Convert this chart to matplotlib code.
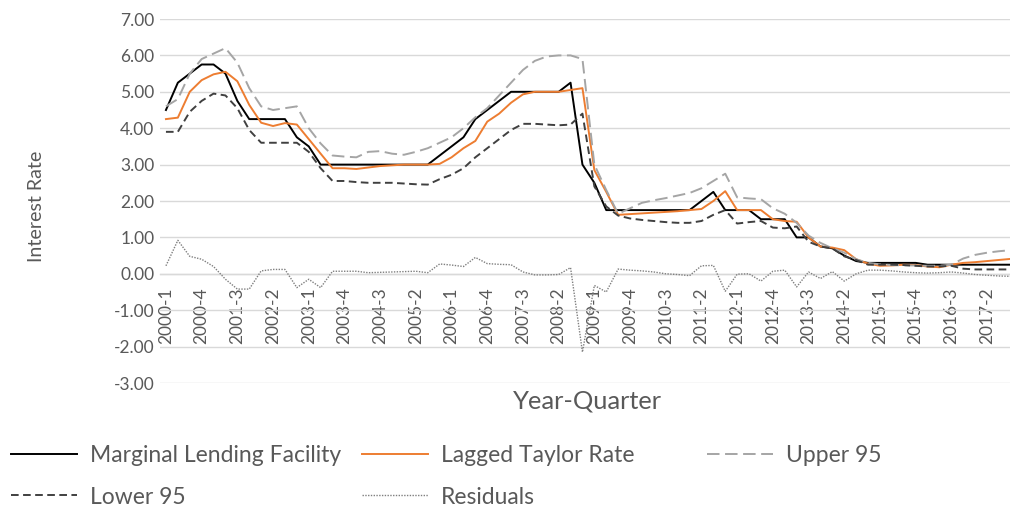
import matplotlib
matplotlib.use("Agg")
import matplotlib.pyplot as plt

# ---------------- data ----------------
quarters = [f"{y}-{q}" for y in range(2000, 2018) for q in range(1, 5)]

mlf = [4.50, 5.25, 5.50, 5.75, 5.75, 5.50, 4.75, 4.25, 4.25, 4.25, 4.25, 3.75,
       3.50, 3.00, 3.00, 3.00, 3.00, 3.00, 3.00, 3.00, 3.00, 3.00, 3.00, 3.25,
       3.50, 3.75, 4.25, 4.50, 4.75, 5.00, 5.00, 5.00, 5.00, 5.00, 5.25, 3.00,
       2.50, 1.75, 1.75, 1.75, 1.75, 1.75, 1.75, 1.75, 1.75, 2.00, 2.25, 1.75,
       1.75, 1.75, 1.50, 1.50, 1.50, 1.00, 1.00, 0.75, 0.70, 0.50, 0.35, 0.30,
       0.30, 0.30, 0.30, 0.30, 0.25, 0.25, 0.25, 0.25, 0.25, 0.25, 0.25, 0.25]

taylor = [4.25, 4.29, 5.00, 5.32, 5.48, 5.55, 5.29, 4.64, 4.15, 4.06, 4.14, 4.10,
          3.70, 3.30, 2.90, 2.90, 2.88, 2.92, 2.96, 2.98, 3.00, 3.00, 3.00, 3.02,
          3.20, 3.45, 3.65, 4.18, 4.40, 4.70, 4.93, 5.00, 5.00, 5.00, 5.05, 5.10,
          2.85, 2.25, 1.62, 1.64, 1.66, 1.68, 1.70, 1.72, 1.75, 1.78, 2.00, 2.27,
          1.75, 1.75, 1.75, 1.50, 1.45, 1.43, 1.00, 0.75, 0.72, 0.65, 0.40, 0.28,
          0.22, 0.23, 0.25, 0.24, 0.20, 0.18, 0.25, 0.30, 0.32, 0.35, 0.38, 0.41]

upper95 = [4.60, 4.80, 5.50, 5.90, 6.05, 6.20, 5.80, 5.10, 4.60, 4.50, 4.55, 4.60,
           4.00, 3.58, 3.25, 3.22, 3.20, 3.35, 3.37, 3.30, 3.27, 3.35, 3.45, 3.60,
           3.75, 4.00, 4.30, 4.55, 4.90, 5.25, 5.60, 5.85, 5.97, 6.00, 6.00, 5.90,
           3.00, 2.30, 1.65, 1.80, 1.95, 2.02, 2.08, 2.15, 2.22, 2.35, 2.55, 2.75,
           2.10, 2.07, 2.05, 1.80, 1.65, 1.40, 1.05, 0.85, 0.70, 0.58, 0.40, 0.30,
           0.26, 0.24, 0.23, 0.23, 0.22, 0.22, 0.25, 0.42, 0.52, 0.58, 0.62, 0.65]

lower95 = [3.90, 3.90, 4.45, 4.75, 4.95, 4.90, 4.55, 3.95, 3.60, 3.60, 3.60, 3.60,
           3.35, 2.90, 2.55, 2.55, 2.52, 2.50, 2.50, 2.50, 2.48, 2.46, 2.45, 2.60,
           2.72, 2.90, 3.20, 3.45, 3.70, 3.95, 4.12, 4.12, 4.10, 4.08, 4.10, 4.40,
           2.40, 1.85, 1.60, 1.52, 1.48, 1.45, 1.42, 1.40, 1.40, 1.45, 1.62, 1.75,
           1.38, 1.42, 1.45, 1.27, 1.25, 1.30, 0.88, 0.75, 0.70, 0.48, 0.38, 0.25,
           0.25, 0.25, 0.24, 0.22, 0.20, 0.20, 0.22, 0.14, 0.12, 0.12, 0.12, 0.12]

residuals = [0.22, 0.92, 0.48, 0.40, 0.20, -0.15, -0.42, -0.42, 0.08, 0.12, 0.12, -0.38,
             -0.15, -0.38, 0.07, 0.07, 0.07, 0.03, 0.04, 0.05, 0.06, 0.07, 0.03, 0.27,
             0.24, 0.20, 0.45, 0.28, 0.26, 0.25, 0.05, -0.03, -0.03, -0.02, 0.17, -2.15,
             -0.32, -0.50, 0.13, 0.10, 0.08, 0.05, 0.00, -0.02, -0.05, 0.22, 0.23, -0.48,
             -0.01, 0.00, -0.20, 0.07, 0.10, -0.36, 0.05, -0.13, 0.06, -0.20, 0.00, 0.10,
             0.10, 0.08, 0.05, 0.03, 0.02, 0.03, 0.05, 0.02, -0.02, -0.04, -0.06, -0.07]

y_ticks = [-3, -2, -1, 0, 1, 2, 3, 4, 5, 6, 7]
series_labels = ["Marginal Lending Facility", "Lagged Taylor Rate", "Upper 95",
                 "Lower 95", "Residuals"]

# ---------------- figure ----------------
W, H = 1010, 511
FONT = "Lato"
TXT = "#595959"
GRID = "#D9D9D9"

plt.rcParams["lines.scale_dashes"] = False
fig = plt.figure(figsize=(W / 100, H / 100), dpi=100)
renderer = fig.canvas.get_renderer()


def fit(text, target_px):
    t = fig.text(0, 0, text, fontsize=10, family=FONT)
    w = t.get_window_extent(renderer).width
    t.remove()
    return 10 * target_px / w


fs_tick = fit("2000-1", 57)
fs_ylab = fit("Interest Rate", 111)
fs_xlab = fit("Year-Quarter", 149)
fs_leg = fit("Marginal Lending Facility", 250)

ax = fig.add_axes([160 / W, 1 - 383 / H, 850 / W, (383 - 19) / H])
x = list(range(len(quarters)))
step_px = 11.9
ax.set_xlim(-0.5, -0.5 + 850 / step_px)
ax.set_ylim(-3, 7)

h_mlf, = ax.plot(x, mlf, color="#000000", lw=1.4, zorder=3)
h_tay, = ax.plot(x, taylor, color="#ED7D31", lw=1.4, zorder=3)
h_up, = ax.plot(x, upper95, color="#A5A5A5", lw=1.4, dashes=(9, 4), zorder=3)
h_lo, = ax.plot(x, lower95, color="#404040", lw=1.4, dashes=(5.5, 3.2), zorder=3)
h_res, = ax.plot(x, residuals, color="#7F7F7F", lw=1.0, dashes=(1, 1), zorder=3)

for s in ["top", "left", "right"]:
    ax.spines[s].set_visible(False)
ax.spines["bottom"].set_position(("data", 0))
ax.spines["bottom"].set_color(GRID)
ax.spines["bottom"].set_linewidth(1.0)

ax.set_yticks(y_ticks)
ax.set_yticklabels([f"{v:.2f}" for v in y_ticks])
ax.yaxis.grid(True, color=GRID, lw=1.0, zorder=0)
ax.set_axisbelow(True)

ax.set_xticks(x[::3])
ax.set_xticklabels(quarters[::3], rotation=90)
ax.tick_params(axis="x", length=0, pad=10, labelsize=fs_tick, labelcolor=TXT)
ax.tick_params(axis="y", length=0, pad=4, labelsize=fs_tick, labelcolor=TXT)
for lab in ax.get_xticklabels() + ax.get_yticklabels():
    lab.set_family(FONT)

fig.text(37 / W, 1 - 206 / H, "Interest Rate", rotation=90, ha="center",
         va="center", fontsize=fs_ylab, color=TXT, family=FONT)
fig.text(587 / W, 1 - 401 / H, "Year-Quarter", ha="center", va="center",
         fontsize=fs_xlab, color=TXT, family=FONT)

fs_leg_px = fs_leg * 100 / 72
handles = [h_mlf, h_tay, h_up, h_lo, h_res]
spots = [(11, 456), (362, 456), (707, 456), (11, 497), (362, 497)]
for h, lab, (px, py) in zip(handles, series_labels, spots):
    fig.legend([h], [lab], loc="center left", bbox_to_anchor=(px / W, 1 - py / H),
               frameon=False, borderpad=0, borderaxespad=0,
               handlelength=66 / fs_leg_px, handletextpad=13 / fs_leg_px,
               prop={"family": FONT, "size": fs_leg}, labelcolor=TXT)

fig.savefig("out.png", dpi=100)
